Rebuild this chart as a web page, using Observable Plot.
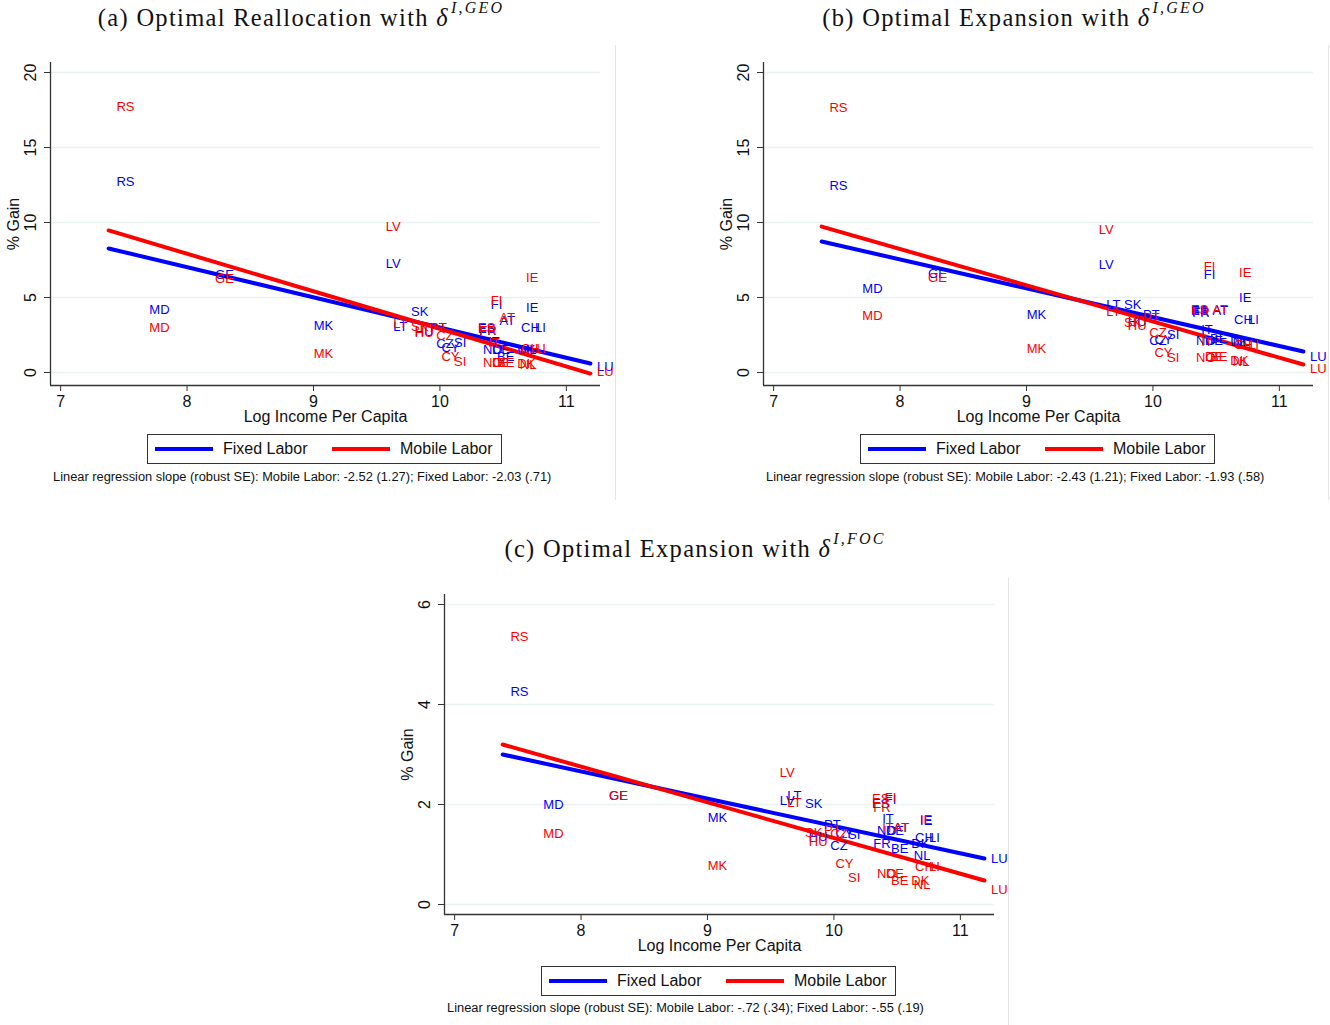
<!DOCTYPE html>
<html><head><meta charset="utf-8">
<script src="https://cdn.jsdelivr.net/npm/d3@7"></script>
<script src="https://cdn.jsdelivr.net/npm/@observablehq/plot@0.6"></script>
<style>
body{margin:0;background:#fff;width:1330px;height:1025px;position:relative;overflow:hidden;font-family:"Liberation Sans",Arial,sans-serif;color:#111;}
.title{font-family:"Liberation Serif","Times New Roman",serif;font-size:24.5px;white-space:nowrap;transform:translateX(-50%);letter-spacing:1.3px;}
.title i{font-style:italic;}
.title sup{font-size:16px;font-style:italic;position:relative;top:-4px;letter-spacing:2.2px;margin-left:2px;}
.legend{border:1px solid #333;width:353px;height:28px;font-size:16px;}
.legend .sw{position:absolute;top:12px;width:58px;height:4px;}
.legend .lt{position:absolute;top:5px;white-space:nowrap;}
.note{font-size:12.85px;white-space:nowrap;}
.vline{position:absolute;width:1px;background:#e4e4e4;}
</style></head>
<body>
<script>
// ---------------- DATA ----------------
const countries = ["RS","MD","GE","MK","LV","LT","SK","HU","PT","CZ","CY","SI","ES","FR","NO","IT","DE","FI","BE","AT","DK","NL","CH","IE","LI","LU"];
const logIncome = [7.41,7.67,8.19,8.97,9.54,9.60,9.74,9.77,9.89,9.94,9.98,10.08,10.27,10.28,10.31,10.35,10.38,10.37,10.42,10.44,10.58,10.60,10.61,10.65,10.72,11.21];

// (a) Optimal Reallocation, delta GEO
const fixedA  = [12.73,4.2,6.53,3.13,7.27,3.07,4.07,2.73,3.0,1.93,1.67,2.0,2.93,2.8,1.53,2.07,1.53,4.53,1.07,3.47,1.53,1.53,3.0,4.33,3.0,0.4];
const mobileA = [17.73,3.0,6.27,1.27,9.73,3.27,3.07,2.67,3.0,2.47,1.07,0.73,3.0,2.8,0.67,2.0,0.67,4.8,0.67,3.67,0.6,0.53,1.6,6.33,1.6,0.07];
// (b) Optimal Expansion, delta GEO
const fixedB  = [12.47,5.6,6.6,3.87,7.2,4.53,4.53,3.4,3.87,2.13,2.2,2.53,4.13,4.0,2.13,2.87,2.13,6.53,2.27,4.13,2.07,2.07,3.53,5.0,3.53,1.07];
const mobileB = [17.67,3.8,6.33,1.6,9.53,4.07,3.33,3.13,3.67,2.67,1.33,1.0,4.2,4.07,1.0,2.07,1.07,7.07,1.07,4.2,0.8,0.73,1.87,6.67,1.87,0.27];
// (c) Optimal Expansion, delta FOC
const fixedC  = [4.26,2.0,2.18,1.74,2.08,2.18,2.02,1.36,1.6,1.18,1.42,1.4,2.02,1.22,1.48,1.72,1.48,2.1,1.12,1.54,1.22,0.98,1.34,1.68,1.34,0.92];
const mobileC = [5.36,1.42,2.18,0.78,2.64,2.04,1.44,1.26,1.5,1.42,0.82,0.54,2.12,1.94,0.62,1.54,0.62,2.14,0.48,1.54,0.48,0.4,0.76,1.7,0.76,0.3];

// fitted regression lines (endpoints)
const fitX = [7.38, 11.19];
const fixedFitA = [8.27, 0.6],  mobileFitA = [9.47, -0.07];
const fixedFitB = [8.73, 1.4],  mobileFitB = [9.73, 0.53];
const fixedFitC = [3.0, 0.92],  mobileFitC = [3.2, 0.48];

const xTicks = [7, 8, 9, 10, 11];
const yTicksAB = [0, 5, 10, 15, 20];
const yTicksC = [0, 2, 4, 6];

const titles = [
  {text:"(a) Optimal Reallocation with ", sup:"I,GEO"},
  {text:"(b) Optimal Expansion with ", sup:"I,GEO"},
  {text:"(c) Optimal Expansion with ", sup:"I,FOC"}
];
const notes = [
  "Linear regression slope (robust SE): Mobile Labor: -2.52 (1.27); Fixed Labor: -2.03 (.71)",
  "Linear regression slope (robust SE): Mobile Labor: -2.43 (1.21); Fixed Labor: -1.93 (.58)",
  "Linear regression slope (robust SE): Mobile Labor: -.72 (.34); Fixed Labor: -.55 (.19)"
];
const seriesNames = ["Fixed Labor", "Mobile Labor"];
const xLabel = "Log Income Per Capita";
const yLabel = "% Gain";

// ---------------- DRAW ----------------
const BLUE = "#0000ff", RED = "#ff0000", AX = "#333";
const FONT = "Liberation Sans, Arial, sans-serif";

function panel(fixed, mobile, fixedFit, mobileFit, yTicks, ydom, mt, mb) {
  const pts = countries.map((c, i) => ({c, x: logIncome[i], f: fixed[i], m: mobile[i]}));
  const fit = fitX.map((x, i) => ({x, f: fixedFit[i], m: mobileFit[i]}));
  const x0 = 6.92;
  return Plot.plot({
    width: 615, height: 380,
    marginLeft: 50, marginRight: 15, marginTop: mt, marginBottom: mb,
    x: {domain: [x0, 11.27], axis: null},
    y: {domain: ydom, axis: null},
    style: {fontFamily: FONT, background: "transparent", color: "#111", overflow: "visible"},
    marks: [
      Plot.gridY(yTicks, {stroke: "#eaf2f3", strokeOpacity: 1, strokeWidth: 1.5}),
      Plot.ruleX([x0], {stroke: AX, strokeWidth: 1.3}),
      Plot.ruleY([ydom[0]], {stroke: AX, strokeWidth: 1.3}),
      Plot.axisY({ticks: yTicks, tickSize: 6, tickFormat: () => "", label: null, stroke: AX}),
      Plot.text(yTicks, {y: d => d, text: d => String(d), frameAnchor: "left", textAnchor: "middle", dx: -20, rotate: -90, fontSize: 16, fill: "#111"}),
      Plot.axisX({ticks: xTicks, tickSize: 6, tickPadding: 4, fontSize: 16, label: null, tickFormat: d => String(d), stroke: AX, fill: "#111"}),
      Plot.text([xLabel], {text: d => d, frameAnchor: "bottom", textAnchor: "middle", dy: 36, fontSize: 16, fill: "#111"}),
      Plot.text([yLabel], {text: d => d, frameAnchor: "left", textAnchor: "middle", dx: -37, rotate: -90, fontSize: 16, fill: "#111"}),
      Plot.line(fit, {x: "x", y: "f", stroke: BLUE, strokeWidth: 4}),
      Plot.line(fit, {x: "x", y: "m", stroke: RED, strokeWidth: 4}),
      Plot.text(pts, {x: "x", y: "f", text: "c", fill: BLUE, textAnchor: "start", dx: 4, fontSize: 13}),
      Plot.text(pts, {x: "x", y: "m", text: "c", fill: RED, textAnchor: "start", dx: 4, fontSize: 13})
    ]
  });
}

function place(el, left, top) {
  el.style.position = "absolute";
  el.style.left = left + "px";
  el.style.top = top + "px";
  document.body.appendChild(el);
  return el;
}
function div(cls, html) { const d = document.createElement("div"); d.className = cls; d.innerHTML = html; return d; }

const pa = panel(fixedA, mobileA, fixedFitA, mobileFitA, yTicksAB, [-0.867, 20.667], 12, 45);
const pb = panel(fixedB, mobileB, fixedFitB, mobileFitB, yTicksAB, [-0.867, 20.667], 12, 45);
const pc = panel(fixedC, mobileC, fixedFitC, mobileFitC, yTicksC, [-0.2, 6.2], 14, 46);
place(pa, 0, 50);
place(pb, 713, 50);
place(pc, 394, 580);

// faint graph-region borders
[[615, 45, 455], [1328, 45, 455], [1008, 578, 447]].forEach(([x, y, h]) => {
  const v = document.createElement("div"); v.className = "vline";
  v.style.left = x + "px"; v.style.top = y + "px"; v.style.height = h + "px";
  document.body.appendChild(v);
});

// titles
const tpos = [[301, 3], [1014, 3], [695, 534]];
titles.forEach((t, i) => {
  place(div("title", t.text + "<i>δ</i><sup>" + t.sup + "</sup>"), tpos[i][0], tpos[i][1]);
});

// legends
const lpos = [[147, 434], [860, 434], [541, 966]];
lpos.forEach(([l, t]) => {
  const d = div("legend",
    `<span class="sw" style="left:7px;background:${BLUE}"></span><span class="lt" style="left:75px">${seriesNames[0]}</span>` +
    `<span class="sw" style="left:184px;background:${RED}"></span><span class="lt" style="left:252px">${seriesNames[1]}</span>`);
  place(d, l, t);
});

// notes
const npos = [[53, 469], [766, 469], [447, 1000]];
notes.forEach((n, i) => place(div("note", n), npos[i][0], npos[i][1]));
</script>
</body></html>
